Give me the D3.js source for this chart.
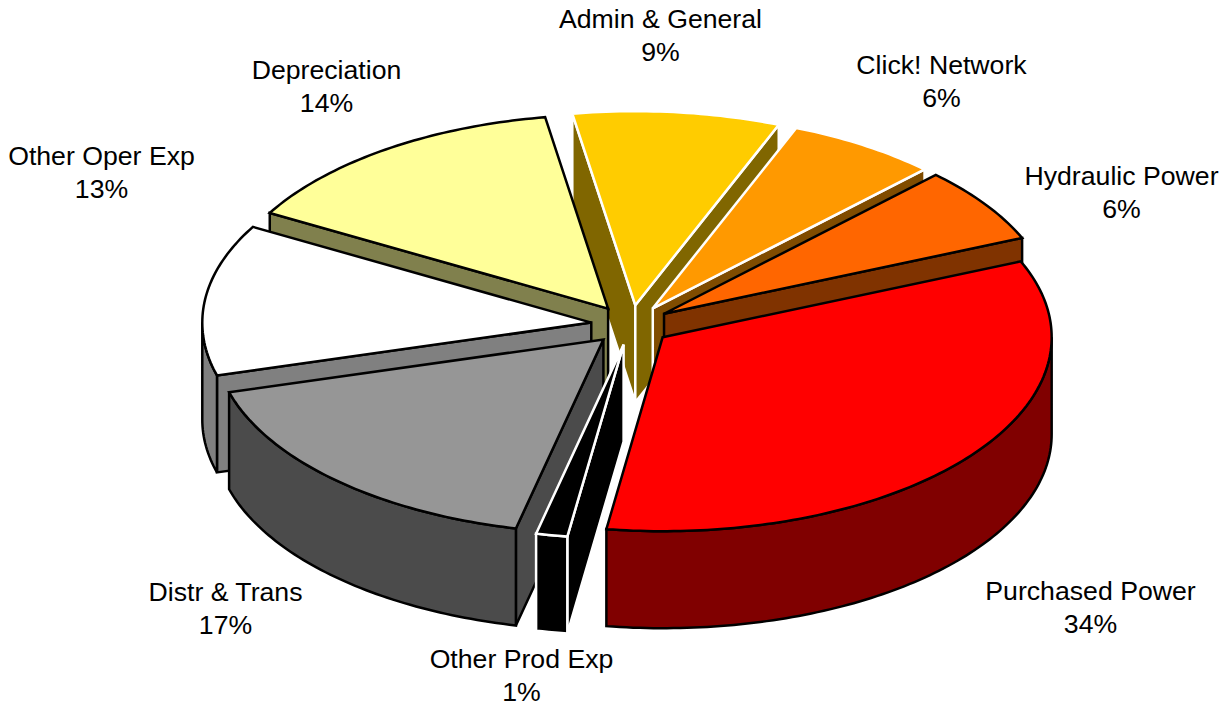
<!DOCTYPE html>
<html>
<head>
<meta charset="utf-8">
<style>
html,body{margin:0;padding:0;background:#fff}
svg{display:block}
text{font-family:"Liberation Sans",Arial,sans-serif;font-size:26.67px;fill:#000;text-anchor:middle}
</style>
<script src="https://cdn.jsdelivr.net/npm/d3@7/dist/d3.min.js"></script>
</head>
<body>
<svg id="c" width="1225" height="706"></svg>
<script>
const categories = ["Purchased Power","Other Prod Exp","Distr & Trans","Other Oper Exp","Depreciation","Admin & General","Click! Network","Hydraulic Power"];
const values = [33.7,1.3,17.0,12.6,14.2,8.6,6.3,6.3];
const topColors = ["#FF0000","#000000","#969696","#FFFFFF","#FFFF99","#FFCC00","#FF9900","#FF6600"];
const sideColors = ["#800000","#000000","#4B4B4B","#808080","#80804D","#806600","#804C00","#803300"];
const strokeColors = ["#000","#fff","#000","#000","#000","#fff","#fff","#000"];
const labelX = [1090.5,521.5,225.5,101.5,326.5,660.5,941.5,1121.5];
const labelY = [600,668,601,165,79,28,74,185];

const W = 1225, H = 706;
const CX = 631, CY = 325, RX = 389, RY = 194, DEPTH = 97, EXPLODE = 40 / 389;
const LINE = 33;
const deg = Math.PI / 180;

const x = d3.scaleLinear().domain([-1,1]).range([CX-RX, CX+RX]);
const y = d3.scaleLinear().domain([-1,1]).range([CY-RY, CY+RY]);
const pie = d3.pie().sort(null).value(d => d).startAngle(67*deg).endAngle(427*deg);
const arcs = pie(values).map((a,i) => ({...a, i, mid:(a.startAngle+a.endAngle)/2}));
const line = d3.line().x(d => d[0]).y(d => d[1]);
const svg = d3.select("#c");

function pt(s, t, r, drop){
  const ox = Math.sin(s.mid)*EXPLODE, oy = -Math.cos(s.mid)*EXPLODE;
  return [x(ox + r*Math.sin(t)), y(oy - r*Math.cos(t)) + (drop||0)];
}
function rim(s, a, b, drop){
  const n = Math.max(2, Math.ceil((b-a)/deg));
  return d3.range(n+1).map(k => pt(s, a+(b-a)*k/n, 1, drop));
}
function wall(s, t){
  return [pt(s,t,0), pt(s,t,1), pt(s,t,1,DEPTH), pt(s,t,0,DEPTH)];
}

const order = arcs.slice().sort((p,q) => d3.descending(Math.cos(p.mid), Math.cos(q.mid)));
const slices = svg.selectAll("g.slice").data(order).join("g").attr("class","slice")
  .attr("stroke", d => strokeColors[d.i]).attr("stroke-width",2.5).attr("stroke-linejoin","miter").attr("stroke-miterlimit",3);

slices.each(function(s){
  const g = d3.select(this), side = sideColors[s.i];
  if (Math.sin(s.startAngle) < 0)
    g.append("path").attr("fill",side).attr("d", line(wall(s,s.startAngle))+"Z");
  if (Math.sin(s.endAngle) > 0)
    g.append("path").attr("fill",side).attr("d", line(wall(s,s.endAngle))+"Z");
  const a = Math.max(s.startAngle, 90*deg), b = Math.min(s.endAngle, 270*deg);
  if (b > a)
    g.append("path").attr("fill",side).attr("d", line(rim(s,a,b,0).concat(rim(s,a,b,DEPTH).reverse()))+"Z");
  g.append("path").attr("fill",topColors[s.i])
    .attr("d", line([pt(s,0,0)].concat(rim(s,s.startAngle,s.endAngle,0)))+"Z");
});

const fmt = d3.format(".0f");
const labels = svg.selectAll("g.lab").data(arcs).join("g").attr("class","lab");
labels.append("text").attr("x",d=>labelX[d.i]).attr("y",d=>labelY[d.i]).text(d=>categories[d.i]);
labels.append("text").attr("x",d=>labelX[d.i]).attr("y",d=>labelY[d.i]+LINE).text(d=>fmt(d.value)+"%");
</script>
</body>
</html>
